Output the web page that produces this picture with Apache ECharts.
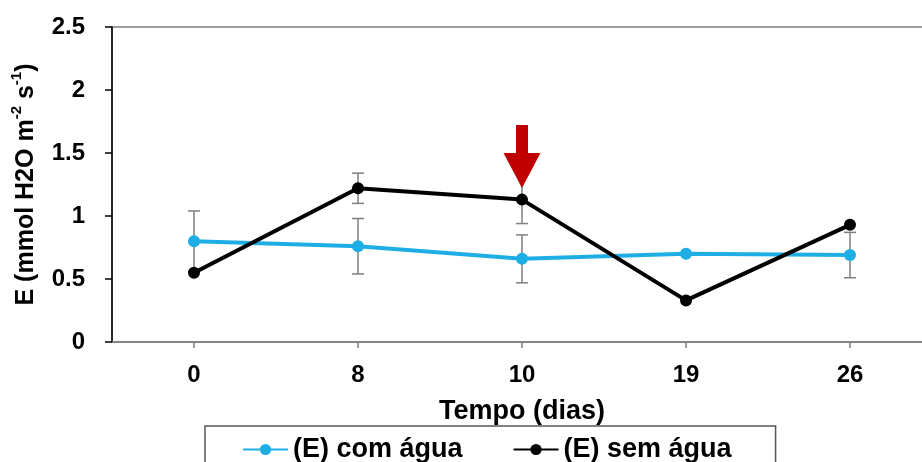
<!DOCTYPE html>
<html>
<head>
<meta charset="utf-8">
<script src="https://cdn.jsdelivr.net/npm/echarts@6/dist/echarts.min.js"></script>
<style>html,body{margin:0;padding:0;background:#fff;}#c{width:922px;height:462px;}</style>
</head>
<body>
<div id="c"></div>
<script>
const categories = ['0', '8', '10', '19', '26'];
const comAgua = [0.80, 0.76, 0.66, 0.70, 0.69];
const comAguaErr = [0.24, 0.22, 0.19, 0, 0.18];
const semAgua = [0.55, 1.22, 1.13, 0.33, 0.93];
const semAguaErr = [0, 0.12, 0.19, 0, 0];
const yTicks = [0, 0.5, 1, 1.5, 2, 2.5];
const arrowIndex = 2;

const blue = '#1EAEE6';
const black = '#000000';
const FONT = 'Liberation Sans, Arial, sans-serif';

function errData(vals, errs) {
  return vals.map((v, i) => [i, v - errs[i], v + errs[i]]).filter((d, i) => errs[i] > 0);
}
function errRender(params, api) {
  const x = api.value(0);
  const lo = api.coord([x, api.value(1)]);
  const hi = api.coord([x, api.value(2)]);
  const cw = 6;
  const st = { stroke: '#7f7f7f', lineWidth: 1.5 };
  return {
    type: 'group',
    children: [
      { type: 'line', shape: { x1: lo[0], y1: lo[1], x2: hi[0], y2: hi[1] }, style: st },
      { type: 'line', shape: { x1: hi[0] - cw, y1: hi[1], x2: hi[0] + cw, y2: hi[1] }, style: st },
      { type: 'line', shape: { x1: lo[0] - cw, y1: lo[1], x2: lo[0] + cw, y2: lo[1] }, style: st }
    ]
  };
}

const chart = echarts.init(document.getElementById('c'));
chart.setOption({
  animation: false,
  grid: {
    left: 112, top: 27, width: 820, height: 315,
    outerBoundsMode: 'none', containLabel: false,
    show: true, borderColor: '#7f7f7f', borderWidth: 1.5
  },
  legend: {
    data: ['(E) com água', '(E) sem água'],
    left: 205, top: 426,
    padding: [8, 44, 30, 37],
    borderColor: '#555', borderWidth: 1.5,
    itemWidth: 45, itemHeight: 14, itemGap: 50,
    textStyle: { fontFamily: FONT, fontWeight: 'bold', fontSize: 27, lineHeight: 31, color: '#000' }
  },
  xAxis: {
    type: 'category',
    data: categories,
    boundaryGap: true,
    name: 'Tempo (dias)',
    nameLocation: 'middle',
    nameGap: 56,
    nameTextStyle: { fontFamily: FONT, fontWeight: 'bold', fontSize: 27, color: '#000' },
    axisLine: { lineStyle: { color: '#7f7f7f', width: 1.5 } },
    axisTick: { show: true, alignWithLabel: true, length: 6, inside: false, lineStyle: { color: '#7f7f7f', width: 1.5 } },
    axisLabel: { margin: 21, fontFamily: FONT, fontWeight: 'bold', fontSize: 24, color: '#000' }
  },
  yAxis: {
    type: 'value',
    min: 0, max: 2.5, interval: 0.5,
    name: '{t|E (mmol H2O m}{s|-2}{t| s}{s|-1}{t|)}',
    nameLocation: 'middle',
    nameGap: 73,
    nameRotate: 90,
    nameTextStyle: {
      rich: {
        t: { fontFamily: FONT, fontWeight: 'bold', fontSize: 25, color: '#000', lineHeight: 30, verticalAlign: 'bottom' },
        s: { fontFamily: FONT, fontWeight: 'bold', fontSize: 15, color: '#000', lineHeight: 30, verticalAlign: 'top' }
      }
    },
    splitLine: { show: false },
    axisLine: { show: true, lineStyle: { color: '#000', width: 1.5 } },
    axisTick: { show: true, length: 7, lineStyle: { color: '#000', width: 1.5 } },
    axisLabel: {
      margin: 27, fontFamily: FONT, fontWeight: 'bold', fontSize: 24, color: '#000',
      formatter: v => String(yTicks.find(t => Math.abs(t - v) < 1e-9) ?? v)
    }
  },
  series: [
    {
      type: 'custom', name: 'errCom', renderItem: errRender, data: errData(comAgua, comAguaErr), z: 1, silent: true
    },
    {
      type: 'custom', name: 'errSem', renderItem: errRender, data: errData(semAgua, semAguaErr), z: 1, silent: true
    },
    {
      type: 'line', name: '(E) com água', data: comAgua, z: 3,
      symbol: 'circle', symbolSize: 12,
      lineStyle: { color: blue, width: 4 }, itemStyle: { color: blue }
    },
    {
      type: 'line', name: '(E) sem água', data: semAgua, z: 4,
      symbol: 'circle', symbolSize: 12,
      lineStyle: { color: black, width: 4 }, itemStyle: { color: black },
      markPoint: {
        symbol: 'path://M12.5,0 L24.5,0 L24.5,28 L37,28 L18.5,63 L0,28 L12.5,28 Z',
        symbolSize: [37, 63],
        symbolKeepAspect: false,
        symbolOffset: [0, -43],
        itemStyle: { color: '#C00000' },
        label: { show: false },
        silent: true,
        data: [{ coord: [categories[arrowIndex], semAgua[arrowIndex]] }]
      }
    }
  ]
});
</script>
</body>
</html>
